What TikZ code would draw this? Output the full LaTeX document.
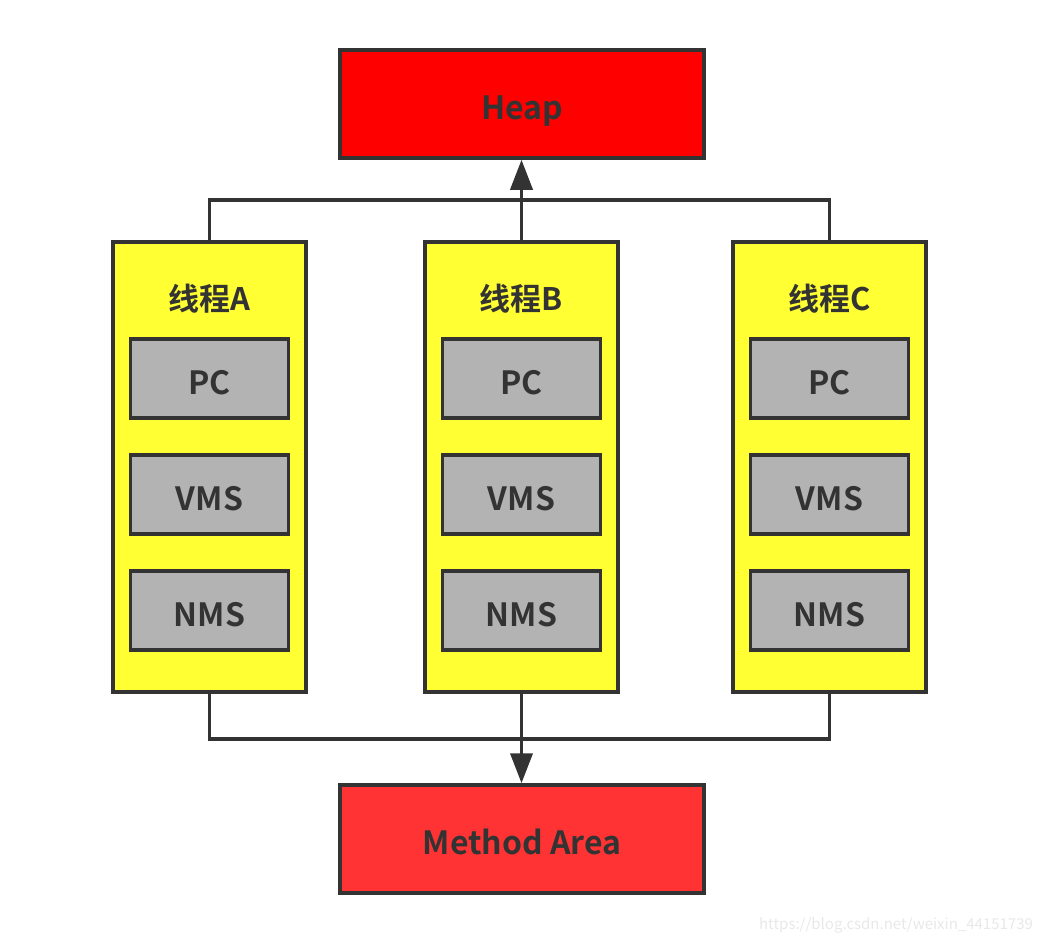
\documentclass[tikz,border=0pt]{standalone}
\usepackage{fontspec}
\setmainfont{Noto Sans CJK SC}[BoldFont={* Bold}]
\usetikzlibrary{arrows.meta}
\definecolor{edge}{HTML}{333333}
\definecolor{heapred}{HTML}{FF0000}
\definecolor{methred}{HTML}{FF3333}
\definecolor{thyellow}{HTML}{FFFF33}
\definecolor{regray}{HTML}{B3B3B3}
\begin{document}
\begin{tikzpicture}[x=1pt,y=-1pt,
  box/.style={draw=edge,line width=3.5pt,inner sep=0pt,font=\bfseries\fontsize{32}{34}\selectfont,text=edge,text height=31pt,text depth=0pt},
  area/.style={box,minimum width=364pt,minimum height=108pt},
  thread/.style={box,fill=thyellow,minimum width=193pt,minimum height=450pt},
  reg/.style={box,fill=regray,minimum width=158pt,minimum height=79pt},
  ttl/.style={font=\bfseries\fontsize{31}{33}\selectfont,text=edge,inner sep=0pt,anchor=base},
  conn/.style={draw=edge,line width=3.8pt},
  arr/.style={conn,-{Triangle[length=30pt,width=22pt]}}]
\useasboundingbox (0,0) rectangle (1040,943);
\node[area,fill=heapred] (heap) at (522,104) {Heap};
\node[area,fill=methred] (meth) at (522,839) {Method Area};
\foreach \n/\x/\l in {A/209.5/A,B/521.5/B,C/829.5/C}{
  \node[thread] (t\n) at (\x,467) {};
  \node[ttl] (l\n) at (\x,310) {线程\l};
  \node[reg] (pc\n) at (\x,378.5) {PC};
  \node[reg] (vms\n) at (\x,494.5) {VMS};
  \node[reg] (nms\n) at (\x,610.5) {NMS};
}
\coordinate (ta) at (209.5,200);
\coordinate (tc) at (829.5,200);
\coordinate (ba) at (209.5,739);
\coordinate (bc) at (829.5,739);
\draw[conn] (tA.north) -- (ta) -- (tc) -- (tC.north);
\draw[conn] (tA.south) -- (ba) -- (bc) -- (tC.south);
\draw[arr] (tB.north) -- (heap.south -| tB.north);
\draw[arr] (tB.south) -- (meth.north -| tB.south);
\node[font=\fontsize{15}{17}\selectfont,text=black!9,inner sep=0pt] (wm) at (896,925) {https://blog.csdn.net/weixin\_44151739};
\end{tikzpicture}
\end{document}
